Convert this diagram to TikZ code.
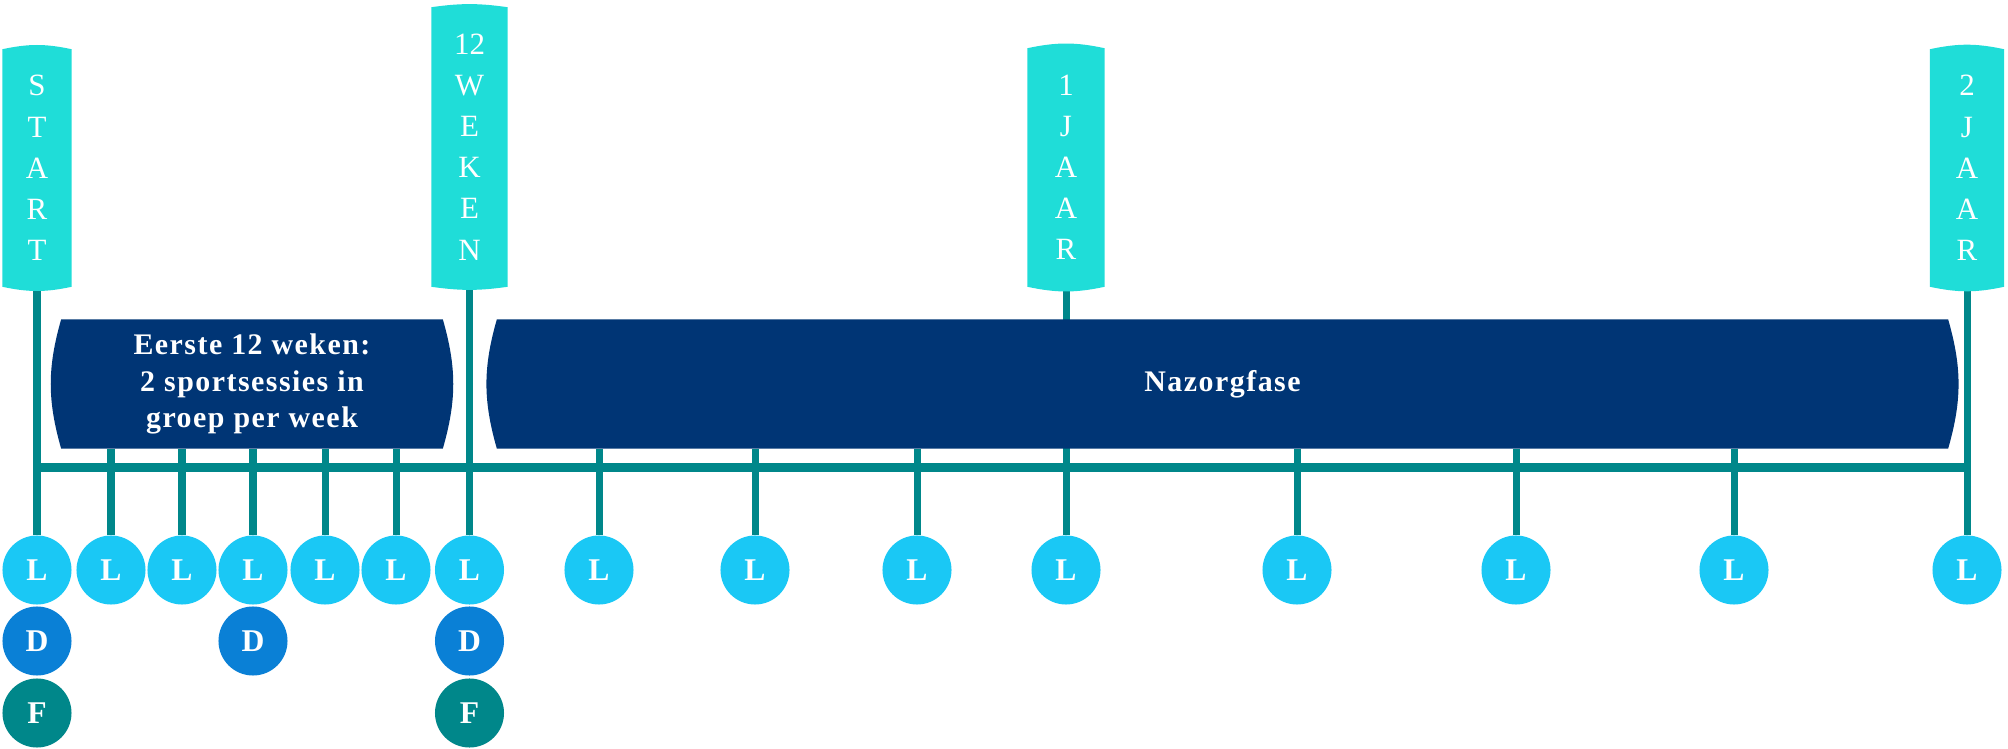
\documentclass[tikz,border=0pt]{standalone}
\usepackage{fontspec}
\setmainfont{Liberation Serif}
\newfontfamily\fasefont{Liberation Serif}[LetterSpace=5]
\usepackage{tikz}
\usetikzlibrary{backgrounds}
\definecolor{tlturq}{RGB}{31,221,216}
\definecolor{tlnavy}{RGB}{0,53,117}
\definecolor{tlteal}{RGB}{0,135,138}
\definecolor{tlsky}{RGB}{26,200,245}
\definecolor{tlblue}{RGB}{10,128,214}

\begin{document}
\begin{tikzpicture}[x=0.01cm,y=-0.01cm,
  tlmile/.style={inner sep=0pt,text=white,align=center,
    font=\fontsize{8.8}{11.7}\selectfont},
  tlfase/.style={inner sep=0pt,minimum height=1.28cm,text=white,align=center,
    font=\fasefont\bfseries\fontsize{8.5}{10.5}\selectfont},
  tldot/.style={circle,inner sep=0pt,minimum size=0.69cm,text=white,
    font=\bfseries\fontsize{9}{9}\selectfont},
  tlline/.style={draw=tlteal,line width=0.07cm}
]
  \useasboundingbox (0,0) rectangle (2008,749);
  % Milestones
  \node[tlmile,minimum width=0.68cm,minimum height=2.36cm] (start) at (37,168) {S\\T\\A\\R\\T};
  \node[tlmile,minimum width=0.75cm,minimum height=2.78cm] (wk12) at (469.5,147) {12\\W\\E\\K\\E\\N};
  \node[tlmile,minimum width=0.76cm,minimum height=2.37cm] (jr1) at (1066,167.5) {1\\J\\A\\A\\R};
  \node[tlmile,minimum width=0.73cm,minimum height=2.36cm] (jr2) at (1967,168) {2\\J\\A\\A\\R};
  % Phases
  \node[tlfase,minimum width=3.80cm] (fase1) at (252,384) {Eerste 12 weken:\\2 sportsessies in\\groep per week};
  \node[tlfase,minimum width=14.49cm] (fase2) at (1222.5,384) {Nazorgfase};
  % L row
  \node[tldot,fill=tlsky] (l1) at (37,570) {L};
  \node[tldot,fill=tlsky] (l2) at (111,570) {L};
  \node[tldot,fill=tlsky] (l3) at (182,570) {L};
  \node[tldot,fill=tlsky] (l4) at (253,570) {L};
  \node[tldot,fill=tlsky] (l5) at (325,570) {L};
  \node[tldot,fill=tlsky] (l6) at (396,570) {L};
  \node[tldot,fill=tlsky] (l7) at (469.5,570) {L};
  \node[tldot,fill=tlsky] (l8) at (599,570) {L};
  \node[tldot,fill=tlsky] (l9) at (755,570) {L};
  \node[tldot,fill=tlsky] (l10) at (917,570) {L};
  \node[tldot,fill=tlsky] (l11) at (1066,570) {L};
  \node[tldot,fill=tlsky] (l12) at (1297,570) {L};
  \node[tldot,fill=tlsky] (l13) at (1516,570) {L};
  \node[tldot,fill=tlsky] (l14) at (1734,570) {L};
  \node[tldot,fill=tlsky] (l15) at (1967,570) {L};
  % D and F
  \node[tldot,fill=tlblue] (d1) at (37,641) {D};
  \node[tldot,fill=tlblue] (d2) at (253,641) {D};
  \node[tldot,fill=tlblue] (d3) at (469.5,641) {D};
  \node[tldot,fill=tlteal] (f1) at (37,713) {F};
  \node[tldot,fill=tlteal] (f2) at (469.5,713) {F};
  \coordinate (bar) at (0,468);
  \begin{scope}[on background layer]
    % Stems and ticks
    \draw[tlline] (start.south) -- (l1.north);
    \draw[tlline] (wk12.south) -- (l7.north);
    \draw[tlline] (jr1.south) -- (l11.north);
    \draw[tlline] (jr2.south) -- (l15.north);
    \draw[tlline] (l2 |- fase1.south) -- (l2.north);
    \draw[tlline] (l3 |- fase1.south) -- (l3.north);
    \draw[tlline] (l4 |- fase1.south) -- (l4.north);
    \draw[tlline] (l5 |- fase1.south) -- (l5.north);
    \draw[tlline] (l6 |- fase1.south) -- (l6.north);
    \draw[tlline] (l8 |- fase2.south) -- (l8.north);
    \draw[tlline] (l9 |- fase2.south) -- (l9.north);
    \draw[tlline] (l10 |- fase2.south) -- (l10.north);
    \draw[tlline] (l12 |- fase2.south) -- (l12.north);
    \draw[tlline] (l13 |- fase2.south) -- (l13.north);
    \draw[tlline] (l14 |- fase2.south) -- (l14.north);
    \draw[tlline,line width=0.09cm] (l1 |- bar) -- (l15 |- bar);
    % Shapes behind the texts
    \fill[tlturq] (start.south west) -- (start.north west) to[bend left=12] (start.north east)
      -- (start.south east) to[bend left=12] (start.south west) -- cycle;
    \fill[tlturq] (wk12.south west) -- (wk12.north west) to[bend left=8] (wk12.north east)
      -- (wk12.south east) to[bend left=8] (wk12.south west) -- cycle;
    \fill[tlturq] (jr1.south west) -- (jr1.north west) to[bend left=12] (jr1.north east)
      -- (jr1.south east) to[bend left=12] (jr1.south west) -- cycle;
    \fill[tlturq] (jr2.south west) -- (jr2.north west) to[bend left=12] (jr2.north east)
      -- (jr2.south east) to[bend left=12] (jr2.south west) -- cycle;
    \fill[tlnavy] (fase1.south west) to[bend left=16] (fase1.north west)
      -- (fase1.north east) to[bend left=16] (fase1.south east) -- cycle;
    \fill[tlnavy] (fase2.south west) to[bend left=16] (fase2.north west)
      -- (fase2.north east) to[bend left=16] (fase2.south east) -- cycle;
  \end{scope}
\end{tikzpicture}
\end{document}
